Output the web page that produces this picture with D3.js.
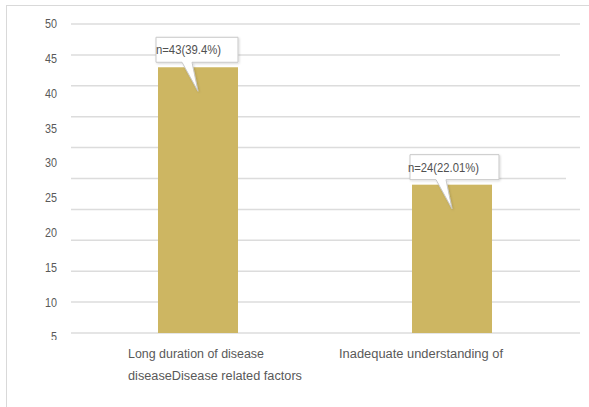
<!DOCTYPE html>
<html>
<head>
<meta charset="utf-8">
<script src="https://cdn.jsdelivr.net/npm/d3@7"></script>
<style>
    body { margin: 0; background: #fff; }
    svg { display: block; }
    .tick-label { font-family: "Liberation Sans Narrow", "Liberation Sans", Arial, sans-serif; font-size: 12px; fill: #595959; }
    .cat-label { font-family: "Liberation Sans", Arial, sans-serif; font-size: 12.5px; fill: #595959; }
    .callout-text { font-family: "Liberation Sans Narrow", "Liberation Sans", Arial, sans-serif; font-size: 12px; fill: #505050; }
</style>
</head>
<body>
<div id="chart-area"></div>
<script>
//Data
const categories = ["Long duration of disease", "Inadequate understanding of"];
const categoryLines = [
    ["Long duration of disease", "diseaseDisease related factors"],
    ["Inadequate understanding of"],
];
const counts = [43, 24];
const callouts = ["n=43(39.4%)", "n=24(22.01%)"];
const tickLabels = [50, 45, 40, 35, 30, 25, 20, 15, 10, 5];
const gridValues = [0, 5, 10, 15, 20, 25, 30, 35, 40, 45, 50];

const width = 589;
const height = 407;

const svg = d3
    .select("#chart-area")
    .append("svg")
    .attr("width", width)
    .attr("height", height);

const defs = svg.append("defs");
defs.append("clipPath")
    .attr("id", "tick-clip")
    .append("rect")
    .attr("x", 0)
    .attr("y", 0)
    .attr("width", 70)
    .attr("height", 340);
const shadow = defs.append("filter").attr("id", "shadow");
shadow.append("feDropShadow")
    .attr("dx", 1)
    .attr("dy", 1)
    .attr("stdDeviation", 1)
    .attr("flood-color", "#000")
    .attr("flood-opacity", 0.15);

//Frame
svg.append("line")
    .attr("x1", 6).attr("x2", width)
    .attr("y1", 5.5).attr("y2", 5.5)
    .attr("stroke", "#d9d9d9");
svg.append("line")
    .attr("x1", 6.5).attr("x2", 6.5)
    .attr("y1", 5).attr("y2", height)
    .attr("stroke", "#d9d9d9");

//Scales
const xScale = d3
    .scaleBand()
    .domain(categories)
    .range([71, 579])
    .paddingInner(0.685)
    .paddingOuter(0.3425);
const yScale = d3.scaleLinear().domain([0, 50]).range([333, 24]);
const tickPos = d3.scalePoint().domain(tickLabels).range([24, 337]);

//Gridlines
svg.append("g")
    .selectAll("line")
    .data(gridValues)
    .join("line")
    .attr("x1", 71)
    .attr("x2", (d) => (d === 45 ? 560 : d === 25 ? 566 : 580))
    .attr("y1", (d) => yScale(d))
    .attr("y2", (d) => yScale(d))
    .attr("stroke", "#dcdcdc")
    .attr("stroke-width", 1.5);

//Tick labels (narrowed to match the condensed look)
svg.append("g")
    .attr("clip-path", "url(#tick-clip)")
    .selectAll("text")
    .data(tickLabels)
    .join("text")
    .attr("class", "tick-label")
    .attr("x", 57)
    .attr("y", (d) => tickPos(d))
    .attr("dy", "0.36em")
    .attr("text-anchor", "end")
    .attr("textLength", (d) => (d < 10 ? 6 : 12))
    .attr("lengthAdjust", "spacingAndGlyphs")
    .text((d) => d);

//Bars
svg.append("g")
    .selectAll("rect")
    .data(counts)
    .join("rect")
    .attr("x", (d, i) => xScale(categories[i]))
    .attr("y", (d) => yScale(d))
    .attr("width", xScale.bandwidth())
    .attr("height", (d) => yScale(0) - yScale(d))
    .attr("fill", "#cdb662");

//Category labels
const labelShift = [-70, -113];
const textWidths = [[136, 174], [164]];
categoryLines.forEach((lines, i) => {
    const cx = xScale(categories[i]) + xScale.bandwidth() / 2;
    lines.forEach((line, j) => {
        svg.append("text")
            .attr("class", "cat-label")
            .attr("x", cx + labelShift[i])
            .attr("y", 358 + j * 22)
            .attr("textLength", textWidths[i][j])
            .attr("lengthAdjust", "spacingAndGlyphs")
            .text(line);
    });
});

//Callouts
counts.forEach((d, i) => {
    const left = xScale(categories[i]) - 2;
    const cx = xScale(categories[i]) + xScale.bandwidth() / 2;
    const top = yScale(d);
    const boxW = i === 0 ? 82 : 89;
    const boxB = top - 5;
    const boxT = boxB - 25;
    const path = d3.path();
    path.moveTo(left, boxT);
    path.lineTo(left + boxW, boxT);
    path.lineTo(left + boxW, boxB);
    path.lineTo(cx - 6, boxB);
    path.lineTo(cx, top + 24);
    path.lineTo(cx - 16, boxB);
    path.lineTo(left, boxB);
    path.closePath();
    svg.append("path")
        .attr("d", path.toString())
        .attr("fill", "#fff")
        .attr("stroke", "#c8c8c8")
        .attr("filter", "url(#shadow)");
    svg.append("text")
        .attr("class", "callout-text")
        .attr("x", left - (i === 0 ? 0 : 2))
        .attr("y", boxT + 17)
        .attr("textLength", i === 0 ? 65 : 71)
        .attr("lengthAdjust", "spacingAndGlyphs")
        .text(callouts[i]);
});
</script>
</body>
</html>
